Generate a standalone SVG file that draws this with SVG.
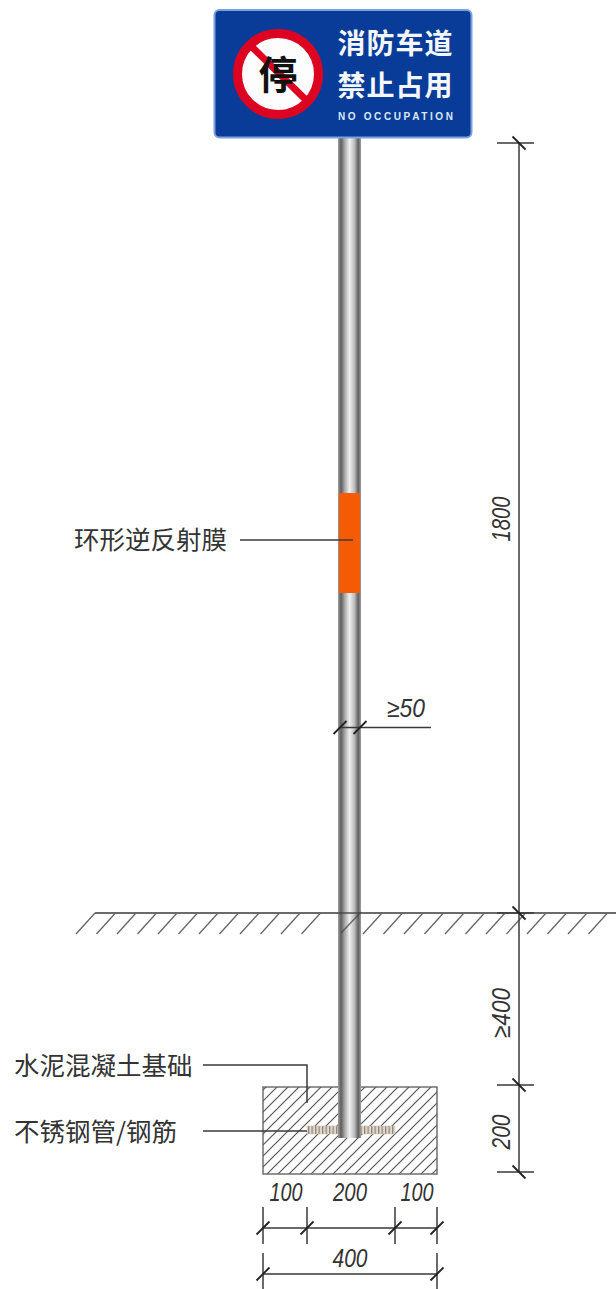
<svg xmlns="http://www.w3.org/2000/svg" width="616" height="1289" viewBox="0 0 616 1289">
<style>
.d{stroke:#3a3a3a;stroke-width:1.5;fill:none}
.dim{font-family:"Liberation Sans",Arial,sans-serif;font-size:26px;font-style:italic;fill:#333;text-anchor:middle}
.lab{font-family:"Noto Sans CJK SC","Noto Sans",sans-serif;font-size:25.500px;fill:#333}
.sg{font-family:"Noto Sans CJK SC",sans-serif;font-size:28px;font-weight:700;fill:#f4f8fc;letter-spacing:1px}
</style>
<defs>
<linearGradient id="pole" x1="0" x2="1" y1="0" y2="0">
<stop offset="0" stop-color="#a0a0a0"/><stop offset=".13" stop-color="#5e5e5e"/><stop offset=".3" stop-color="#aaa"/><stop offset=".5" stop-color="#f0f0f0"/><stop offset=".72" stop-color="#bbb"/><stop offset=".88" stop-color="#5e5e5e"/><stop offset="1" stop-color="#a0a0a0"/>
</linearGradient>
<pattern id="hatch" width="11" height="11" patternUnits="userSpaceOnUse">
<path d="M-2 13L13 -2M-2 2L2 -2M9 13L13 9" stroke="#555" stroke-width="1.200" fill="none"/>
</pattern>
<pattern id="thread" width="3.500" height="10" patternUnits="userSpaceOnUse">
<rect width="3.500" height="10" fill="#e3d9cc"/><rect width="1.300" height="10" fill="#8d8579"/>
</pattern>
<path id="tick" d="M-6.500 6.500L6.500 -6.500" stroke="#222" stroke-width="1.800" fill="none"/>
<path id="tickb" d="M-6.500 -6.500L6.500 6.500" stroke="#222" stroke-width="1.800" fill="none"/>
</defs>

<g id="foundation">
<rect x="263" y="1087" width="174" height="87" fill="url(#hatch)" stroke="#666" stroke-width="1.400"/>
</g>
<g id="ground">
<path class="d" d="M95 913H616" stroke="#666"/>
<path d="M95 913L76 934M115.500 913L96.500 934M136 913L117 934M156.500 913L137.500 934M177 913L158 934M197.500 913L178.500 934M218 913L199 934M238.500 913L219.500 934M259 913L240 934M279.500 913L260.500 934M300 913L281 934M320.500 913L301.500 934M382 913L363 934M402.500 913L383.500 934M423 913L404 934M443.500 913L424.500 934M464 913L445 934M484.500 913L465.500 934M505 913L486 934M525.500 913L506.500 934M546 913L527 934M566.500 913L547.500 934M587 913L568 934M607.500 913L588.500 934" stroke="#666" stroke-width="1.300" fill="none"/>
</g>
<g id="rebar">
<rect x="307" y="1126" width="88" height="8" fill="url(#thread)" stroke="#c9c0b4" stroke-width=".6"/>
</g>
<g id="pole">
<rect x="338" y="135" width="23" height="1003" fill="url(#pole)"/>
<path d="M338 913H361" stroke="#444" stroke-width="1.400"/>
<path d="M341 933L361 912" stroke="#444" stroke-width="1.400" opacity=".75"/>
</g>
<g id="reflective-band">
<rect x="339" y="493" width="21" height="100" fill="#f55a05"/>
</g>
<g id="sign">
<rect x="214.500" y="10" width="257" height="127.500" rx="5" fill="#083c98" stroke="#7aa2e0" stroke-width="2"/>
<circle cx="278" cy="74" r="40.500" fill="#fdfdfd" stroke="#dc0420" stroke-width="9"/>
<path d="M252 47L306 100" stroke="#dc0420" stroke-width="7"/>
<text x="278" y="89" font-family="'Noto Sans CJK SC',sans-serif" font-size="39" font-weight="700" fill="#111" text-anchor="middle">停</text>
<text class="sg" x="337.500" y="54">消防车道</text>
<text class="sg" x="337.500" y="96">禁止占用</text>
<text x="338" y="119.500" font-family="'Liberation Sans',Arial,sans-serif" font-size="10" font-weight="700" fill="#dce8f6" textLength="115" lengthAdjust="spacing">NO OCCUPATION</text>
</g>

<g id="connectors">
<path class="d" d="M240 540H353"/>
<path class="d" d="M203 1065H307V1103"/>
<path class="d" d="M203 1131H307"/>
<path class="d" d="M340 727.500H431"/>
<path class="d" d="M497 143H534M519 143V1172M497 913H534M497 1085H534M497 1172H534"/>
<path class="d" d="M263 1207V1244M307 1207V1244M395 1207V1244M437 1207V1244M263 1228H437"/>
<path class="d" d="M263 1253V1289M437 1253V1289M263 1274H437"/>
<use href="#tick" x="340" y="727.500"/><use href="#tick" x="360" y="727.500"/>
<use href="#tickb" x="519" y="143"/><use href="#tickb" x="519" y="913"/><use href="#tickb" x="519" y="1085"/><use href="#tickb" x="519" y="1172"/>
<use href="#tick" x="263" y="1228"/><use href="#tick" x="307" y="1228"/><use href="#tick" x="395" y="1228"/><use href="#tick" x="437" y="1228"/>
<use href="#tick" x="263" y="1274"/><use href="#tick" x="437" y="1274"/>
</g>

<g id="labels">
<text class="lab" x="74" y="549">环形逆反射膜</text>
<text class="lab" x="14" y="1075">水泥混凝土基础</text>
<text class="lab" x="14" y="1141">不锈钢管/钢筋</text>
<text class="dim" x="406" y="717" textLength="38" lengthAdjust="spacingAndGlyphs">≥50</text>
<text class="dim" transform="translate(510 519) rotate(-90)" textLength="45" lengthAdjust="spacingAndGlyphs">1800</text>
<text class="dim" transform="translate(510 1013) rotate(-90)" textLength="50" lengthAdjust="spacingAndGlyphs">≥400</text>
<text class="dim" transform="translate(510 1132) rotate(-90)" textLength="35" lengthAdjust="spacingAndGlyphs">200</text>
<text class="dim" x="286" y="1201" textLength="33" lengthAdjust="spacingAndGlyphs">100</text>
<text class="dim" x="350" y="1201" textLength="34" lengthAdjust="spacingAndGlyphs">200</text>
<text class="dim" x="417" y="1201" textLength="33" lengthAdjust="spacingAndGlyphs">100</text>
<text class="dim" x="350" y="1267" textLength="35" lengthAdjust="spacingAndGlyphs">400</text>
</g>
</svg>
